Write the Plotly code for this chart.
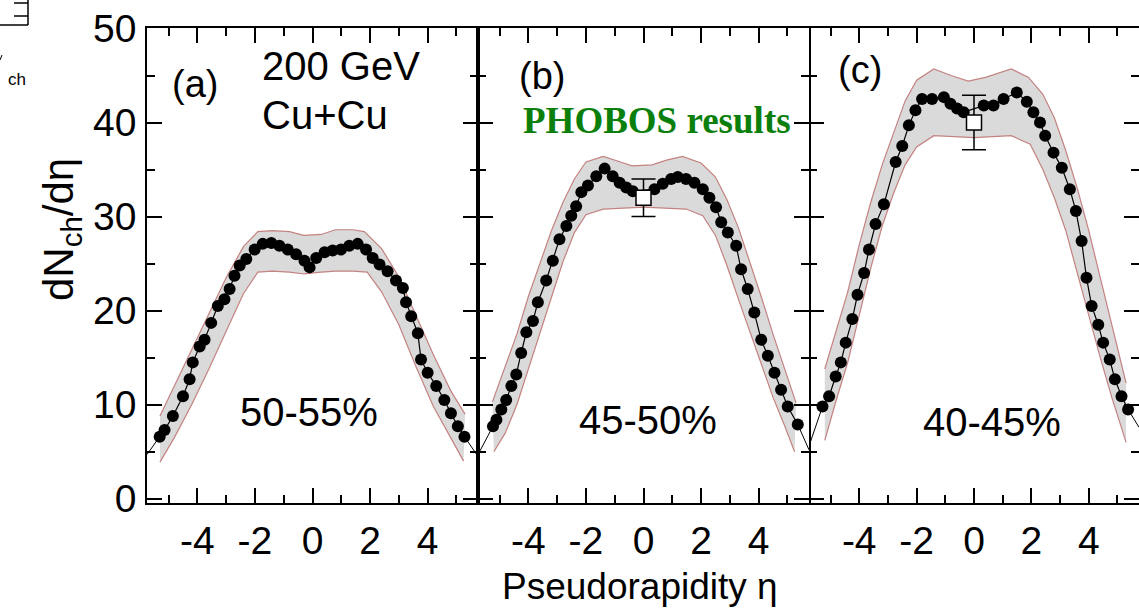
import plotly.graph_objects as go

# ---------------- data ----------------
eta_a = [-5.31,-5.14,-4.85,-4.50,-4.27,-4.16,-3.92,-3.75,-3.52,-3.29,-3.06,-2.88,-2.71,-2.53,-2.30,-2.01,-1.73,-1.43,-1.15,-0.86,-0.57,-0.28,-0.10,0.13,0.42,0.70,0.99,1.28,1.57,1.86,2.09,2.33,2.61,2.90,3.14,3.25,3.43,3.66,3.77,4.00,4.30,4.58,4.81,5.05,5.28]
dn_a = [6.6,7.3,8.8,10.9,12.7,14.5,16.2,16.9,18.7,20.5,21.2,22.3,23.7,24.8,25.5,26.5,27.1,27.2,26.9,26.5,26.0,25.3,24.6,25.6,26.2,26.4,26.5,26.9,27.1,26.5,25.6,24.9,24.2,23.2,22.4,20.9,19.4,17.6,14.8,13.4,12.0,10.5,9.1,7.7,6.6]

eta_b = [-5.23,-5.11,-4.94,-4.77,-4.59,-4.42,-4.25,-4.07,-3.84,-3.67,-3.38,-3.15,-2.92,-2.68,-2.51,-2.34,-2.16,-1.93,-1.64,-1.35,-1.07,-0.83,-0.60,-0.37,0.38,0.67,0.96,1.19,1.48,1.77,2.06,2.29,2.52,2.70,2.93,3.22,3.39,3.62,3.85,4.09,4.32,4.55,4.78,5.01,5.36]
dn_b = [7.7,8.4,9.5,10.5,12.0,13.2,15.5,17.7,18.9,20.9,23.2,25.3,27.6,29.0,30.1,31.1,32.6,33.3,34.3,35.1,34.3,33.6,33.1,32.7,32.9,33.5,34.0,34.2,34.0,33.6,32.9,32.0,31.0,29.4,28.3,26.9,24.4,22.3,19.8,16.9,15.2,13.4,11.6,9.8,7.9]

eta_c = [-5.28,-5.05,-4.82,-4.64,-4.47,-4.24,-4.06,-3.83,-3.66,-3.43,-3.14,-2.73,-2.50,-2.27,-2.04,-1.81,-1.46,-1.05,-0.82,-0.59,-0.36,0.34,0.68,1.03,1.49,1.84,2.07,2.30,2.48,2.77,3.06,3.34,3.55,3.75,3.92,4.10,4.33,4.50,4.73,4.91,5.14,5.37]
dn_c = [9.8,10.9,13.0,14.5,16.6,19.1,21.7,24.0,26.5,29.2,31.3,35.8,37.5,39.7,41.3,42.5,42.5,42.7,42.0,41.5,41.1,41.8,41.8,42.5,43.2,42.2,41.1,40.0,38.6,36.8,35.2,32.9,30.6,27.4,23.5,20.5,18.5,16.6,14.8,12.7,10.9,9.5]

# thin line continuation to the panel edges
edge_eta = [-5.75, 5.75]
edge_a = [4.7, 4.5]
edge_b = [4.7, 5.2]
edge_c = [5.6, 7.6]

# systematic-error bands (upper / lower edges)
band_a_hi_eta = [-5.3,-4.8,-4.2,-3.6,-3.0,-2.4,-1.9,-1.4,-0.8,-0.3,0.3,0.8,1.4,1.8,2.4,3.0,3.6,4.2,4.8,5.3]
band_a_hi = [8.8,12.0,15.8,19.8,23.5,26.8,28.4,28.5,28.4,28.0,28.1,28.6,28.6,28.4,26.6,23.6,19.5,15.3,11.5,9.0]
band_a_lo_eta = [-5.3,-4.8,-4.2,-3.6,-3.0,-2.4,-1.9,-1.4,-0.8,-0.3,0.3,0.8,1.4,1.9,2.4,3.0,3.6,4.2,4.8,5.25]
band_a_lo = [3.9,6.5,10.0,13.8,17.8,21.8,24.1,24.2,24.1,23.9,24.1,24.2,24.2,24.1,22.0,18.5,14.0,9.8,6.5,4.0]

band_b_hi_eta = [-5.25,-4.8,-4.4,-4.0,-3.6,-3.2,-2.8,-2.4,-2.0,-1.4,-0.8,-0.4,0.3,0.8,1.35,2.0,2.5,2.9,3.3,3.7,4.1,4.5,4.9,5.3]
band_b_hi = [10.3,14.0,17.5,21.5,25.0,28.5,31.5,34.0,35.8,36.4,35.8,35.4,35.5,36.0,36.4,35.7,34.2,31.8,28.8,25.2,21.4,17.5,13.8,10.2]
band_b_lo_eta = [-5.2,-4.8,-4.4,-4.0,-3.6,-3.2,-2.8,-2.4,-2.0,-1.4,0.0,1.48,2.06,2.5,2.9,3.3,3.7,4.1,4.5,4.9,5.25]
band_b_lo = [5.0,7.0,10.0,13.8,17.6,21.5,25.2,28.3,30.2,30.8,31.0,30.8,30.1,28.0,24.8,21.2,17.8,14.2,10.8,7.8,5.0]

band_c_hi_eta = [-5.2,-4.8,-4.4,-4.0,-3.6,-3.2,-2.8,-2.4,-2.0,-1.4,-0.8,-0.2,0.4,1.3,1.9,2.4,2.8,3.2,3.6,4.0,4.4,4.8,5.3]
band_c_hi = [13.8,17.8,22.0,27.0,31.5,35.5,39.0,42.3,44.5,45.7,45.0,44.4,44.8,45.7,44.8,43.0,40.5,37.0,33.0,28.5,23.5,18.5,12.3]
band_c_lo_eta = [-5.2,-4.8,-4.4,-4.0,-3.6,-3.2,-2.8,-2.4,-2.0,-1.4,0.0,1.3,1.96,2.4,2.8,3.2,3.6,4.0,4.4,4.8,5.3]
band_c_lo = [6.2,10.5,14.5,19.5,24.5,29.0,32.5,35.5,37.4,38.6,38.4,38.6,37.7,35.0,32.0,28.5,24.0,19.5,15.0,10.8,6.0]

# PHOBOS reference points at eta = 0
phobos_eta = [0.0]
phobos_b = [32.0]
phobos_b_err = [2.0]
phobos_c = [40.0]
phobos_c_err = [2.9]

xtick_vals = [-4, -2, 0, 2, 4]
xtick_text = ["-4", "-2", "0", "2", "4"]
ytick_vals = [0, 10, 20, 30, 40, 50]
ytick_text = ["0", "10", "20", "30", "40", "50"]

panel_tags = ["(a)", "(b)", "(c)"]
centralities = ["50-55%", "45-50%", "40-45%"]

# ---------------- layout geometry ----------------
W, H = 1139, 612
L, R, T, B = 147, 0, 28, 109
PW, PH = W - L - R, H - T - B


def px(x):
    return (x - L) / PW


def py(y):
    return (H - B - y) / PH


FONT = "Liberation Sans, Arial, Helvetica, sans-serif"
BAND_FILL = "rgb(218,218,218)"
BAND_LINE = "rgb(196,130,128)"

fig = go.Figure()

panels = [
    ("x", "y", eta_a, dn_a, edge_a, band_a_hi_eta, band_a_hi, band_a_lo_eta, band_a_lo, None, None),
    ("x2", "y2", eta_b, dn_b, edge_b, band_b_hi_eta, band_b_hi, band_b_lo_eta, band_b_lo, phobos_b, phobos_b_err),
    ("x3", "y3", eta_c, dn_c, edge_c, band_c_hi_eta, band_c_hi, band_c_lo_eta, band_c_lo, phobos_c, phobos_c_err),
]

for xa, ya, eta, dn, edge, hx, hy, lx, ly, pv, pe in panels:
    # band fill
    fig.add_trace(go.Scatter(
        x=hx + lx[::-1], y=hy + ly[::-1], xaxis=xa, yaxis=ya,
        mode="lines", fill="toself", fillcolor=BAND_FILL,
        line=dict(width=0), hoverinfo="skip", showlegend=False))
    # band edges
    for bx, by in ((hx, hy), (lx, ly)):
        fig.add_trace(go.Scatter(
            x=bx, y=by, xaxis=xa, yaxis=ya, mode="lines",
            line=dict(color=BAND_LINE, width=1.2), showlegend=False))
    # thin continuation to panel edges
    fig.add_trace(go.Scatter(
        x=[edge_eta[0], eta[0]], y=[edge[0], dn[0]], xaxis=xa, yaxis=ya,
        mode="lines", line=dict(color="black", width=1), showlegend=False))
    fig.add_trace(go.Scatter(
        x=[eta[-1], edge_eta[1]], y=[dn[-1], edge[1]], xaxis=xa, yaxis=ya,
        mode="lines", line=dict(color="black", width=1), showlegend=False))
    # data
    fig.add_trace(go.Scatter(
        x=eta, y=dn, xaxis=xa, yaxis=ya, mode="lines+markers",
        line=dict(color="black", width=1.2),
        marker=dict(symbol="circle", size=12, color="black"),
        showlegend=False))
    if pv is not None:
        fig.add_trace(go.Scatter(
            x=phobos_eta, y=pv, xaxis=xa, yaxis=ya, mode="markers",
            marker=dict(symbol="square", size=15, color="white",
                        line=dict(color="black", width=1.5)),
            error_y=dict(type="data", array=pe, visible=True, color="black",
                         thickness=1.5, width=12),
            showlegend=False))

d1, d2 = 331 / PW, 662 / PW
domains = [[0, d1], [d1, d2], [d2, 1.0]]

tickfont = dict(family=FONT, size=39, color="black")

for i, dom in enumerate(domains):
    sfx = "" if i == 0 else str(i + 1)
    fig.layout["xaxis" + sfx] = dict(
        domain=dom, range=[-5.75, 5.75], anchor="y" + sfx,
        showline=True, linecolor="black", linewidth=1.6, mirror="ticks",
        ticks="inside", ticklen=15, tickwidth=1.6, tickcolor="black",
        tickmode="array", tickvals=xtick_vals, ticktext=xtick_text,
        tickfont=tickfont, ticklabelstandoff=2,
        minor=dict(dtick=1, tick0=0, ticks="inside", ticklen=8,
                   tickwidth=1.6, tickcolor="black"),
        showgrid=False, zeroline=False, fixedrange=True)
    fig.layout["yaxis" + sfx] = dict(
        domain=[0, 1], range=[-0.45, 50.05], anchor="x" + sfx,
        showline=(i != 2), linecolor="black", linewidth=1.6, mirror="ticks",
        ticks="inside", ticklen=15, tickwidth=1.6, tickcolor="black",
        tickmode="array", tickvals=ytick_vals, ticktext=ytick_text,
        showticklabels=(i == 0), tickfont=tickfont, ticklabelstandoff=1,
        minor=dict(dtick=5, tick0=0, ticks="inside", ticklen=8,
                   tickwidth=1.6, tickcolor="black"),
        showgrid=False, zeroline=False, fixedrange=True)

ann = []


def text(x, y, s, size=40, xanchor="center", yanchor="middle", family=FONT,
         color="black", angle=0):
    ann.append(dict(x=px(x), y=py(y), xref="paper", yref="paper", text=s,
                    showarrow=False, xanchor=xanchor, yanchor=yanchor,
                    textangle=angle,
                    font=dict(family=family, size=size, color=color)))


text(195, 84, panel_tags[0], size=38)
text(542, 76, panel_tags[1], size=38)
text(860, 70, panel_tags[2], size=38)
text(260, 66, "200 GeV", size=40, xanchor="left")
text(260, 115, "Cu+Cu", size=40, xanchor="left")
text(521, 120, "<b>PHOBOS results</b>", size=37, xanchor="left",
     family="Liberation Serif, Times New Roman, serif", color="#0b7f0b")
text(309, 412, centralities[0], size=40)
text(648, 420, centralities[1], size=40)
text(992, 422, centralities[2], size=40)
text(640, 586, "Pseudorapidity η", size=37)
text(62, 230, "dN<sub>ch</sub>/dη", size=42, angle=-90)
# fragment of a neighbouring figure in the top-left corner
text(17, 79, "ch", size=17)

shapes = []


def seg(x0, y0, x1, y1, w=1.5):
    shapes.append(dict(type="line", xref="paper", yref="paper",
                       x0=px(x0), y0=py(y0), x1=px(x1), y1=py(y1),
                       line=dict(color="black", width=w)))


seg(0, 25, 28, 25)
seg(28, 0, 28, 25)
seg(14, 3, 28, 3)
seg(14, 16, 28, 16)
seg(0, 60, 2, 55, 1)

fig.update_layout(
    width=W, height=H, margin=dict(l=L, r=R, t=T, b=B, pad=0),
    paper_bgcolor="white", plot_bgcolor="white",
    annotations=ann, shapes=shapes, showlegend=False,
    font=dict(family=FONT, color="black"))

fig.write_html("out.html")
